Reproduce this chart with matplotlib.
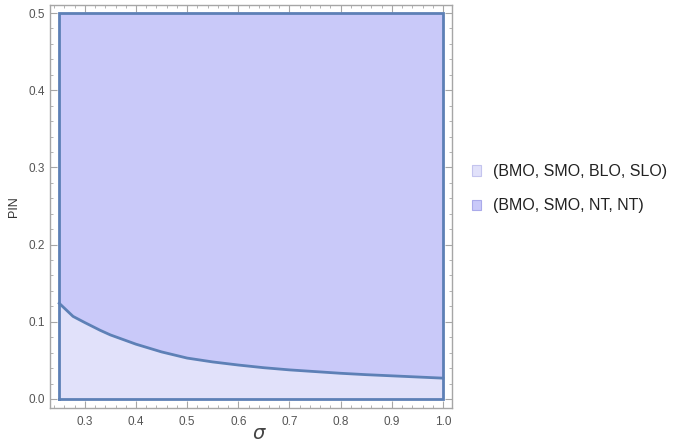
import matplotlib.pyplot as plt
from matplotlib.patches import Patch
from matplotlib.ticker import MultipleLocator

# curva de fronteira entre as duas regioes
sigma = [0.25, 0.277, 0.30, 0.33, 0.35, 0.40, 0.45, 0.50, 0.55, 0.60, 0.65,
         0.70, 0.75, 0.80, 0.85, 0.90, 0.95, 1.00]
pin_fronteira = [0.124, 0.107, 0.099, 0.089, 0.083, 0.071, 0.061, 0.053, 0.048,
                 0.044, 0.0405, 0.0377, 0.0355, 0.0333, 0.0315, 0.030, 0.0285, 0.027]

pin_min = 0.0
pin_max = 0.5

rotulos = ["(BMO, SMO, BLO, SLO)", "(BMO, SMO, NT, NT)"]

cor_clara = "#e1e1fa"
cor_escura = "#c9c9f9"
cor_linha = "#5d80b6"
cor_moldura = "#a6a6a6"
cor_texto = "#555555"

plt.rcParams['font.family'] = ['Liberation Sans', 'DejaVu Sans']

fig = plt.figure(figsize=(6.73, 4.45), dpi=100)
ax = fig.add_axes([0.0743, 0.0831, 0.5973, 0.9057])

ax.fill_between(sigma, pin_min, pin_fronteira, color=cor_clara, lw=0)
ax.fill_between(sigma, pin_fronteira, pin_max, color=cor_escura, lw=0)
ax.plot(sigma, pin_fronteira, color=cor_linha, lw=2)

# contorno da regiao
x0, x1 = sigma[0], sigma[-1]
ax.plot([x0, x1, x1, x0, x0], [pin_min, pin_min, pin_max, pin_max, pin_min],
        color=cor_linha, lw=2, solid_joinstyle='miter')

ax.set_xlim(0.232, 1.0176)
ax.set_ylim(-0.0117, 0.5104)

ax.xaxis.set_major_locator(MultipleLocator(0.1))
ax.xaxis.set_minor_locator(MultipleLocator(0.02))
ax.yaxis.set_major_locator(MultipleLocator(0.1))
ax.yaxis.set_minor_locator(MultipleLocator(0.02))
ax.set_xticks([0.3, 0.4, 0.5, 0.6, 0.7, 0.8, 0.9, 1.0])

ax.tick_params(which='both', direction='in', top=True, right=True,
               color=cor_moldura, labelcolor=cor_texto, labelsize=8.5)
ax.tick_params(which='major', length=5, width=0.8)
ax.tick_params(which='minor', length=2.5, width=0.6)
ax.tick_params(axis='x', pad=6)

for s in ax.spines.values():
    s.set_color(cor_moldura)
    s.set_linewidth(1.0)

ax.set_xlabel(r"$\sigma$", fontsize=14, color="#444444", labelpad=0)
ax.xaxis.set_label_coords(0.52, -0.045, transform=ax.transAxes)
ax.xaxis.label.set_va('top')
ax.set_ylabel("PIN", fontsize=9, color="#333333", labelpad=6)

alcas = [Patch(facecolor=cor_clara, edgecolor="#c4c4ee", lw=0.8),
         Patch(facecolor=cor_escura, edgecolor="#aaaaea", lw=0.8)]
fig.legend(alcas, rotulos, loc='center left', bbox_to_anchor=(0.701, 0.576),
           frameon=False, fontsize=11.5, handlelength=0.6, handleheight=0.6,
           handletextpad=0.7, labelspacing=1.2, borderpad=0, borderaxespad=0,
           labelcolor="#222222")

fig.savefig("out.png", dpi=100)
